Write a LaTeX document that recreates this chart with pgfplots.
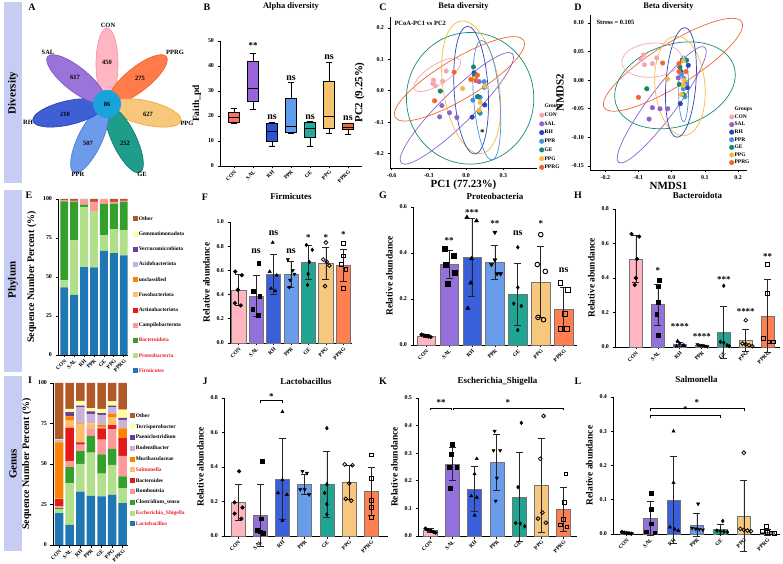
\documentclass[border=0pt]{standalone}
\usepackage{fontspec}
\setmainfont{Liberation Serif}
\usepackage{pgfplots}
\pgfplotsset{compat=1.18}
\usepgfplotslibrary{statistics}

\newcommand{\ffs}[1]{\fontsize{#1}{#1}\selectfont\bfseries}

% group colours (bars)
\definecolor{cCON}{HTML}{FFB6C1}
\definecolor{cSAL}{HTML}{9370DB}
\definecolor{cRH}{HTML}{3A5FDB}
\definecolor{cPPR}{HTML}{6A9CEC}
\definecolor{cGE}{HTML}{1FA593}
\definecolor{cPPG}{HTML}{F8C77E}
\definecolor{cPPRG}{HTML}{FF7F50}
% box plot colours
\definecolor{bCON}{HTML}{F4736B}
\definecolor{bSAL}{HTML}{9A63DB}
\definecolor{bRH}{HTML}{2E53D1}
\definecolor{bPPR}{HTML}{5D9DEE}
\definecolor{bGE}{HTML}{22AA9C}
\definecolor{bPPG}{HTML}{F6C36D}
\definecolor{bPPRG}{HTML}{F2692E}
% scatter colours
\definecolor{sCON}{HTML}{F6A5B2}
\definecolor{sSAL}{HTML}{8E62CF}
\definecolor{sRH}{HTML}{2B45B8}
\definecolor{sPPR}{HTML}{4A8FE0}
\definecolor{sGE}{HTML}{138A6E}
\definecolor{sPPG}{HTML}{F5B940}
\definecolor{sPPRG}{HTML}{F2652E}
% flower
\definecolor{fCON}{HTML}{FFB5C2}\definecolor{eCON}{HTML}{F48FA0}
\definecolor{fSAL}{HTML}{9B74DA}\definecolor{eSAL}{HTML}{7450C0}
\definecolor{fRH}{HTML}{3E5FD6}\definecolor{eRH}{HTML}{2040A8}
\definecolor{fPPR}{HTML}{6C9BEB}\definecolor{ePPR}{HTML}{4575D0}
\definecolor{fGE}{HTML}{1E9E8A}\definecolor{eGE}{HTML}{0F7565}
\definecolor{fPPG}{HTML}{F7C77C}\definecolor{ePPG}{HTML}{F2A127}
\definecolor{fPPRG}{HTML}{FF7B4A}\definecolor{ePPRG}{HTML}{F0581E}
\definecolor{fCEN}{HTML}{1AA3DA}
% stacked palette
\definecolor{p1}{HTML}{1F78B4}
\definecolor{p2}{HTML}{B2DF8A}
\definecolor{p3}{HTML}{33A02C}
\definecolor{p4}{HTML}{FB9A99}
\definecolor{p5}{HTML}{E31A1C}
\definecolor{p6}{HTML}{FDBF6F}
\definecolor{p7}{HTML}{FF7F00}
\definecolor{p8}{HTML}{CAB2D6}
\definecolor{p9}{HTML}{6A3D9A}
\definecolor{p10}{HTML}{FFFF99}
\definecolor{p11}{HTML}{B15928}
\definecolor{strip}{HTML}{C6CCF2}
\definecolor{hl}{HTML}{E8202A}

\pgfplotsset{
  panel/.style={scale only axis, anchor=south west, axis lines*=left,
    axis line style={black, line width=0.9pt},
    every tick/.style={black, line width=0.7pt},
    tick align=outside, major tick length=2.5bp,
    tick label style={font=\ffs{6}},
    /pgf/number format/assume math mode=true,
    scaled ticks=false,
    label style={font=\ffs{9.5}},
    title style={font=\ffs{9}, anchor=center, at={(0.5,1)}},
    clip=false},
  grpticks/.style={xtick={0,1,2,3,4,5,6}, xticklabels={CON,SAL,RH,PPR,GE,PPG,PPRG},
    x tick label style={rotate=45, anchor=north east, inner sep=0.8pt, font=\ffs{5.5}}},
  barpanel/.style={panel, grpticks, ymin=0, ylabel={Relative abundance},
    yticklabel style={/pgf/number format/fixed, /pgf/number format/fixed zerofill,
      /pgf/number format/precision=1}},
  grplegend/.style={legend cell align=left,
    legend style={anchor=north west, draw=none, fill=none, font=\ffs{5.5},
      inner sep=0pt, row sep=#1,
      nodes={inner sep=0.6pt, text height=4bp, text depth=1.2bp}}},
}

% one group: x, colour, mean, sd
\newcommand{\gbar}[4]{\addplot[ybar, bar shift=0pt, fill=#2, draw=black!55, line width=0.5pt,
  error bars/.cd, y dir=both, y explicit,
  error bar style={black!85, line width=0.7pt},
  error mark options={black!85, line width=0.7pt, mark size=3.5bp, rotate=90}]
  coordinates {(#1,#3) +- (0,#4)};}
% the single animals of a group
\newcommand{\gpts}[2]{\addplot[only marks, black, mark size=1.9bp, #1] coordinates {#2};}

\begin{document}
\begin{tikzpicture}
\useasboundingbox (0,0) rectangle (783bp,564bp);

% ---------------- frame: strips, letters, flower (pixel coordinates)
\begin{axis}[at={(0bp,0bp)}, anchor=south west, scale only axis, width=783bp, height=564bp,
  xmin=0, xmax=783, ymin=0, ymax=564, y dir=reverse, hide axis, clip=false]
\fill[strip] (axis cs:4,2) rectangle (axis cs:22,183);
\fill[strip] (axis cs:4,190) rectangle (axis cs:22,372);
\fill[strip] (axis cs:4,376) rectangle (axis cs:22,551);
\node[rotate=90, font=\ffs{11}] at (axis cs:13,93) {Diversity};
\node[rotate=90, font=\ffs{11}] at (axis cs:13,280) {Phylum};
\node[rotate=90, font=\ffs{11}] at (axis cs:13,464) {Genus};
\node[font=\ffs{10}] at (axis cs:32,7) {A};
\node[font=\ffs{10}] at (axis cs:207,7) {B};
\node[font=\ffs{10}] at (axis cs:383,7) {C};
\node[font=\ffs{10}] at (axis cs:578,7) {D};
\node[font=\ffs{10}] at (axis cs:29,195) {E};
\node[font=\ffs{10}] at (axis cs:205,197) {F};
\node[font=\ffs{10}] at (axis cs:383,195) {G};
\node[font=\ffs{10}] at (axis cs:578,195) {H};
\node[font=\ffs{10}] at (axis cs:30,380) {I};
\node[font=\ffs{10}] at (axis cs:205,381) {J};
\node[font=\ffs{10}] at (axis cs:383,381) {K};
\node[font=\ffs{10}] at (axis cs:578,381) {L};
% flower
\filldraw[fill=fCON, draw=eCON, line width=0.6pt, rotate around={90:(axis cs:107,64)}] (axis cs:107,64) ellipse [x radius=36bp, y radius=11bp];
\filldraw[fill=fPPRG, draw=ePPRG, line width=0.6pt, rotate around={38.6:(axis cs:138.2,79)}] (axis cs:138.2,79) ellipse [x radius=36bp, y radius=12bp];
\filldraw[fill=fPPG, draw=ePPG, line width=0.6pt, rotate around={-12.9:(axis cs:146,112.9)}] (axis cs:146,112.9) ellipse [x radius=36bp, y radius=12bp];
\filldraw[fill=fGE, draw=eGE, line width=0.6pt, rotate around={-64.3:(axis cs:124.4,140)}] (axis cs:124.4,140) ellipse [x radius=36bp, y radius=12bp];
\filldraw[fill=fPPR, draw=ePPR, line width=0.6pt, rotate around={-115.7:(axis cs:89.6,140)}] (axis cs:89.6,140) ellipse [x radius=36bp, y radius=12bp];
\filldraw[fill=fRH, draw=eRH, line width=0.6pt, rotate around={-167.1:(axis cs:68,112.9)}] (axis cs:68,112.9) ellipse [x radius=36bp, y radius=12bp];
\filldraw[fill=fSAL, draw=eSAL, line width=0.6pt, rotate around={141.4:(axis cs:75.8,79)}] (axis cs:75.8,79) ellipse [x radius=36bp, y radius=12bp];
\fill[fCEN] (axis cs:107,104) circle [radius=14bp];
\node[font=\ffs{6.5}] at (axis cs:107,104) {86};
\node[font=\ffs{6.5}] at (axis cs:107,62) {450};
\node[font=\ffs{6.5}] at (axis cs:75,77) {617};
\node[font=\ffs{6.5}] at (axis cs:140,78) {275};
\node[font=\ffs{6.5}] at (axis cs:148,114) {627};
\node[font=\ffs{6.5}] at (axis cs:125,143) {252};
\node[font=\ffs{6.5}] at (axis cs:88,143) {507};
\node[font=\ffs{6.5}] at (axis cs:65,114) {210};
\node[font=\ffs{6.5}] at (axis cs:108,25) {CON};
\node[font=\ffs{6.5}] at (axis cs:48,52) {SAL};
\node[font=\ffs{6.5}] at (axis cs:175,52) {PPRG};
\node[font=\ffs{6.5}] at (axis cs:187,123) {PPG};
\node[font=\ffs{6.5}] at (axis cs:142,174) {GE};
\node[font=\ffs{6.5}] at (axis cs:78,174) {PPR};
\node[font=\ffs{6.5}] at (axis cs:28,122) {RH};
\node[anchor=west, font=\ffs{6.5}] at (axis cs:391,23) {PCoA-PC1 vs PC2};
\node[anchor=west, font=\ffs{6.5}] at (axis cs:593,22) {Stress = 0.105};
\end{axis}

% ---------------- B: alpha diversity
\begin{axis}[panel, grpticks, at={(220bp,398bp)}, width=142bp, height=125bp,
  xmin=-0.74, xmax=6.74, ymin=0, ymax=50, ytick={0,10,20,30,40,50},
  ylabel={Faith\_pd}, title={Alpha diversity}, title style={font=\ffs{8.5}, yshift=29bp},
  boxplot/draw direction=y]
\addplot[boxplot prepared={draw position=0, lower whisker=17, lower quartile=17.5, median=19.5, upper quartile=21.5, upper whisker=23, box extend=0.6, whisker extend=0.35}, fill=bCON, draw=black, line width=0.7pt] coordinates {};
\addplot[boxplot prepared={draw position=1, lower whisker=22.5, lower quartile=26, median=31, upper quartile=42, upper whisker=45, box extend=0.6, whisker extend=0.35}, fill=bSAL, draw=black, line width=0.7pt] coordinates {};
\addplot[boxplot prepared={draw position=2, lower whisker=8, lower quartile=10, median=14, upper quartile=17, upper whisker=17.3, box extend=0.6, whisker extend=0.35}, fill=bRH, draw=black, line width=0.7pt] coordinates {};
\addplot[boxplot prepared={draw position=3, lower whisker=13, lower quartile=13.5, median=16, upper quartile=27, upper whisker=33.5, box extend=0.6, whisker extend=0.35}, fill=bPPR, draw=black, line width=0.7pt] coordinates {};
\addplot[boxplot prepared={draw position=4, lower whisker=8, lower quartile=11.5, median=15, upper quartile=17.3, upper whisker=17.7, box extend=0.6, whisker extend=0.35}, fill=bGE, draw=black, line width=0.7pt] coordinates {};
\addplot[boxplot prepared={draw position=5, lower whisker=13, lower quartile=15, median=20, upper quartile=34, upper whisker=41.5, box extend=0.6, whisker extend=0.35}, fill=bPPG, draw=black, line width=0.7pt] coordinates {};
\addplot[boxplot prepared={draw position=6, lower whisker=12.5, lower quartile=14.5, median=15.5, upper quartile=17, upper whisker=17.2, box extend=0.6, whisker extend=0.35}, fill=bPPRG, draw=black, line width=0.7pt] coordinates {};
\node[font=\ffs{9}] at (axis cs:1,48) {**};
\node[font=\ffs{10}] at (axis cs:2,19.7) {ns};
\node[font=\ffs{10}] at (axis cs:3,35) {ns};
\node[font=\ffs{10}] at (axis cs:4,19.7) {ns};
\node[font=\ffs{10}] at (axis cs:5,43.7) {ns};
\node[font=\ffs{10}] at (axis cs:6,19.2) {ns};
\end{axis}

% ---------------- C: PCoA
\begin{axis}[panel, at={(390bp,396bp)}, width=147bp, height=151bp,
  xmin=-0.614, xmax=0.571, ymin=-0.246, ymax=0.235,
  xtick={-0.6,-0.3,0,0.3}, ytick={-0.2,-0.1,0,0.1,0.2},
  tick label style={/pgf/number format/fixed, /pgf/number format/fixed zerofill, /pgf/number format/precision=1},
  xlabel={PC1 (77.23\%)}, ylabel={PC2 (9.25\%)}, label style={font=\ffs{11}},
  xlabel style={yshift=5bp}, ylabel shift=3bp,
  title={Beta diversity}, title style={font=\ffs{8.5}, yshift=5bp},
  grplegend=2.3bp, legend style={at={(0.973,0.43)}}]
\draw[sGE, line width=0.7pt] (axis cs:0.032,-0.024) ellipse [x radius=63.7bp, y radius=65.8bp];
\draw[sPPRG, line width=0.7pt, rotate around={30.9:(axis cs:-0.054,0.038)}] (axis cs:-0.054,0.038) ellipse [x radius=75bp, y radius=20bp];
\draw[sSAL, line width=0.7pt, rotate around={44.5:(axis cs:-0.075,-0.056)}] (axis cs:-0.075,-0.056) ellipse [x radius=78bp, y radius=16bp];
\draw[sPPG, line width=0.7pt, rotate around={99:(axis cs:0.040,0.011)}] (axis cs:0.040,0.011) ellipse [x radius=67bp, y radius=28bp];
\draw[sRH, line width=0.7pt, rotate around={93.4:(axis cs:0.040,0.002)}] (axis cs:0.040,0.002) ellipse [x radius=64bp, y radius=17bp];
\draw[sPPR, line width=0.7pt, rotate around={95:(axis cs:0.166,-0.030)}] (axis cs:0.166,-0.030) ellipse [x radius=60bp, y radius=13bp];
\draw[sCON, line width=0.7pt, rotate around={32.5:(axis cs:-0.233,0.051)}] (axis cs:-0.233,0.051) ellipse [x radius=27bp, y radius=10bp];
\addlegendimage{empty legend}\addlegendentry{Groups}
\addplot[only marks, mark=*, mark size=2.3bp, color=sCON] coordinates {(-0.161,0.063)(-0.263,0.034)(-0.268,0.023)(-0.249,0.016)(-0.190,0.030)};
\addlegendentry{CON}
\addplot[only marks, mark=*, mark size=2.3bp, color=sSAL] coordinates {(-0.196,-0.047)(-0.214,-0.083)(-0.134,-0.070)(-0.075,-0.085)(0.105,0.029)};
\addlegendentry{SAL}
\addplot[only marks, mark=*, mark size=2.3bp, color=sRH] coordinates {(0.064,0.057)(0.072,0.042)(0.048,-0.084)(0.150,-0.045)(0.091,-0.019)};
\addlegendentry{RH}
\addplot[only marks, mark=*, mark size=2.3bp, color=sPPR] coordinates {(0.145,0.029)(0.054,-0.030)(0.147,0.011)(0.113,-0.072)(0.113,-0.021)};
\addlegendentry{PPR}
\addplot[only marks, mark=*, mark size=2.3bp, color=sGE] coordinates {(-0.209,-0.001)(0.059,0.076)(0.067,0.049)(0.099,-0.019)(0.105,-0.067)};
\addlegendentry{GE}
\addplot[only marks, mark=*, mark size=2.3bp, color=sPPG] coordinates {(-0.029,0.007)(0.153,0.015)(0.113,-0.037)(0.105,-0.062)(0.064,0.039)};
\addlegendentry{PPG}
\addplot[only marks, mark=*, mark size=2.3bp, color=sPPRG] coordinates {(-0.097,0.059)(0.038,0.036)(0.078,0.032)(0.091,0.050)(-0.255,-0.032)};
\addlegendentry{PPRG}
\node[font=\ffs{9}] at (axis cs:0.131,-0.134) {*};
\end{axis}

% ---------------- D: NMDS
\begin{axis}[panel, at={(590bp,394bp)}, width=157bp, height=155bp,
  xmin=-0.246, xmax=0.227, ymin=-0.157, ymax=0.114,
  xtick={-0.2,-0.1,0,0.1,0.2}, ytick={-0.15,-0.1,-0.05,0,0.05,0.1},
  xticklabel style={/pgf/number format/fixed, /pgf/number format/fixed zerofill, /pgf/number format/precision=1},
  yticklabel style={/pgf/number format/fixed, /pgf/number format/fixed zerofill, /pgf/number format/precision=2},
  xlabel={NMDS1}, ylabel={NMDS2}, label style={font=\ffs{11}},
  xlabel style={yshift=5bp}, ylabel shift=1bp,
  title={Beta diversity}, title style={font=\ffs{8.5}, yshift=3bp},
  grplegend=1.2bp, legend style={at={(0.847,0.413)}}]
\draw[sPPRG, line width=0.7pt, rotate around={32:(axis cs:0.004,0.027)}] (axis cs:0.004,0.027) ellipse [x radius=81bp, y radius=21bp];
\draw[sGE, line width=0.7pt, rotate around={18:(axis cs:0.010,-0.009)}] (axis cs:0.010,-0.009) ellipse [x radius=62bp, y radius=41bp];
\draw[sSAL, line width=0.7pt, rotate around={53.2:(axis cs:-0.030,-0.043)}] (axis cs:-0.030,-0.043) ellipse [x radius=72bp, y radius=14bp];
\draw[sPPG, line width=0.7pt, rotate around={95:(axis cs:0.025,-0.010)}] (axis cs:0.025,-0.010) ellipse [x radius=50bp, y radius=25bp];
\draw[sRH, line width=0.7pt, rotate around={85.8:(axis cs:0.028,-0.004)}] (axis cs:0.028,-0.004) ellipse [x radius=55bp, y radius=15bp];
\draw[sPPR, line width=0.7pt, rotate around={90:(axis cs:0.036,-0.015)}] (axis cs:0.036,-0.015) ellipse [x radius=33bp, y radius=5bp];
\draw[sCON, line width=0.7pt, rotate around={5:(axis cs:-0.060,0.035)}] (axis cs:-0.060,0.035) ellipse [x radius=30bp, y radius=17bp];
\addlegendimage{empty legend}\addlegendentry{Groups}
\addplot[only marks, mark=*, mark size=2.3bp, color=sCON] coordinates {(-0.085,0.044)(-0.082,0.027)(-0.058,0.029)(-0.045,0.039)(-0.092,0.036)};
\addlegendentry{CON}
\addplot[only marks, mark=*, mark size=2.3bp, color=sSAL] coordinates {(-0.058,-0.048)(-0.035,-0.050)(-0.068,-0.068)(-0.012,-0.050)(0.020,0.004)};
\addlegendentry{SAL}
\addplot[only marks, mark=*, mark size=2.3bp, color=sRH] coordinates {(0.050,0.026)(0.028,0.015)(0.047,-0.013)(0.026,-0.041)(0.032,0.035)};
\addlegendentry{RH}
\addplot[only marks, mark=*, mark size=2.3bp, color=sPPR] coordinates {(0.037,0.003)(0.035,-0.015)(0.040,-0.029)(0.030,0.010)(0.043,-0.006)};
\addlegendentry{PPR}
\addplot[only marks, mark=*, mark size=2.3bp, color=sGE] coordinates {(-0.075,-0.015)(0.045,0.035)(0.025,0.023)(0.023,-0.007)(0.035,-0.025)};
\addlegendentry{GE}
\addplot[only marks, mark=*, mark size=2.3bp, color=sPPG] coordinates {(-0.013,0.002)(0.035,0.034)(0.037,0.000)(0.030,-0.025)(0.036,-0.009)};
\addlegendentry{PPG}
\addplot[only marks, mark=*, mark size=2.3bp, color=sPPRG] coordinates {(-0.027,0.030)(-0.100,-0.030)(0.022,0.029)(0.043,0.015)(0.022,0.015)};
\addlegendentry{PPRG}
\end{axis}

% ---------------- E: phylum composition
\begin{axis}[panel, grpticks, at={(58bp,209bp)}, width=70bp, height=156bp,
  xmin=-0.63, xmax=6.43, ymin=0, ymax=100, ytick={0,25,50,75,100},
  ybar stacked, bar width=0.8,
  ylabel={Sequence Number Percent (\%)}, ylabel style={font=\ffs{10}},
  reverse legend, legend cell align=left,
  legend image code/.code={\fill[#1] (0bp,-2.5bp) rectangle (5bp,2.5bp);},
  legend style={at={(1.071,0.894)}, anchor=north west, draw=none, fill=none, font=\ffs{5.5},
    inner sep=0pt, row sep=8.8bp, nodes={inner sep=0.6pt, text height=4bp, text depth=1.2bp}}]
\addplot[fill=p1, draw=none] coordinates {(0,43.3)(1,38.5)(2,56.3)(3,56.1)(4,66.8)(5,65.3)(6,63.8)};
\addplot[fill=p2, draw=none] coordinates {(0,4.5)(1,34.9)(2,38.3)(3,36.0)(4,9.9)(5,15.4)(6,16.1)};
\addplot[fill=p3, draw=none] coordinates {(0,50.7)(1,24.7)(2,1.8)(3,0.2)(4,20.0)(5,16.3)(6,18.2)};
\addplot[fill=p4, draw=none] coordinates {(0,0.6)(1,0.6)(2,3.4)(3,5.6)(4,3.0)(5,1.0)(6,0.5)};
\addplot[fill=p5, draw=none] coordinates {(0,0.2)(1,0.3)(2,0)(3,0.6)(4,0)(5,0.5)(6,0.4)};
\addplot[fill=p6, draw=none] coordinates {(0,0)(1,0)(2,0)(3,0)(4,0)(5,0.2)(6,0)};
\addplot[fill=p7, draw=none] coordinates {(0,0)(1,0)(2,0)(3,0)(4,0)(5,0.1)(6,0)};
\addplot[fill=p8, draw=none] coordinates {(0,0)(1,0)(2,0)(3,0)(4,0)(5,0)(6,0)};
\addplot[fill=p9, draw=none] coordinates {(0,0)(1,0)(2,0)(3,0)(4,0)(5,0)(6,0)};
\addplot[fill=p10, draw=none] coordinates {(0,0)(1,0)(2,0)(3,0)(4,0)(5,0)(6,0)};
\addplot[fill=p11, draw=none] coordinates {(0,0.7)(1,1.0)(2,0.2)(3,1.5)(4,0.3)(5,1.2)(6,1.0)};
\legend{\textcolor{hl}{Firmicutes},\textcolor{hl}{Proteobacteria},\textcolor{hl}{Bacteroidota},Campilobacterota,Actinobacteriota,Fusobacteriota,unclassified,Acidobacteriota,Verrucomicrobiota,Gemmatimonadota,Other}
\end{axis}

% ---------------- I: genus composition
\begin{axis}[panel, grpticks, at={(53bp,19bp)}, width=75bp, height=162bp,
  xmin=-0.58, xmax=6.5, ymin=0, ymax=100, ytick={0,25,50,75,100},
  ybar stacked, bar width=0.8,
  ylabel={Sequence Number Percent (\%)}, ylabel style={font=\ffs{10}},
  reverse legend, legend cell align=left,
  legend image code/.code={\fill[#1] (0bp,-2.5bp) rectangle (5bp,2.5bp);},
  legend style={at={(1.027,0.818)}, anchor=north west, draw=none, fill=none, font=\ffs{5.5},
    inner sep=0pt, row sep=4.4bp, nodes={inner sep=0.6pt, text height=4bp, text depth=1.2bp}}]
\addplot[fill=p1, draw=none] coordinates {(0,19.6)(1,12.4)(2,33)(3,30.3)(4,30)(5,31)(6,25.8)};
\addplot[fill=p2, draw=none] coordinates {(0,2.4)(1,25.6)(2,17)(3,26.7)(4,14)(5,18.5)(6,9.2)};
\addplot[fill=p3, draw=none] coordinates {(0,0.7)(1,10)(2,8)(3,10.4)(4,12)(5,9.9)(6,7.3)};
\addplot[fill=p4, draw=none] coordinates {(0,1.3)(1,4)(2,4)(3,4.6)(4,9)(5,12.1)(6,12.7)};
\addplot[fill=p5, draw=none] coordinates {(0,4.5)(1,20.5)(2,1.3)(3,0)(4,7)(5,2.5)(6,11)};
\addplot[fill=p6, draw=none] coordinates {(0,0.4)(1,4.2)(2,11.3)(3,3)(4,0.5)(5,5)(6,0)};
\addplot[fill=p7, draw=none] coordinates {(0,34.4)(1,2.7)(2,0.4)(3,0)(4,1.5)(5,2)(6,6)};
\addplot[fill=p8, draw=none] coordinates {(0,1.7)(1,0)(2,10)(3,6)(4,6.4)(5,4)(6,5.3)};
\addplot[fill=p9, draw=none] coordinates {(0,0)(1,2.6)(2,1)(3,1.5)(4,1)(5,1)(6,1.1)};
\addplot[fill=p10, draw=none] coordinates {(0,0.4)(1,2)(2,3)(3,2)(4,2.6)(5,2.7)(6,5.1)};
\addplot[fill=p11, draw=none] coordinates {(0,34.6)(1,16)(2,11)(3,15.5)(4,16)(5,11.3)(6,16.5)};
\legend{\textcolor{hl}{Lactobacillus},\textcolor{hl}{Escherichia\_Shigella},Clostridium\_sensu,Romboutsia,Bacteroides,\textcolor{hl}{Salmonella},Muribaculaceae,Rodentibacter,Paeniclostridium,Terrisporobacter,Other}
\end{axis}

% ---------------- F: Firmicutes
\begin{axis}[barpanel, at={(230bp,221bp)}, width=122bp, height=121bp,
  xmin=-0.5, xmax=6.5, ymax=1.0, ytick={0,0.2,0.4,0.6,0.8,1.0}, bar width=0.82,
  title={Firmicutes}, title style={yshift=20bp}]
\gbar{0}{cCON}{0.44}{0.125}
\gpts{mark=*}{(-0.2,0.59)(0.18,0.56)(-0.05,0.44)(-0.22,0.33)(0.12,0.31)}
\gbar{1}{cSAL}{0.39}{0.17}
\gpts{mark=square*}{(1.15,0.66)(0.85,0.43)(1.2,0.39)(0.8,0.28)(1.12,0.23)}
\gbar{2}{cRH}{0.57}{0.165}
\gpts{mark=triangle*}{(1.95,0.83)(1.78,0.59)(2.18,0.56)(1.85,0.45)(2.1,0.43)}
\gbar{3}{cPPR}{0.567}{0.11}
\gpts{mark=triangle*, mark options={rotate=180}}{(2.82,0.69)(3.1,0.60)(3.2,0.57)(2.95,0.52)(2.9,0.46)}
\gbar{4}{cGE}{0.67}{0.14}
\gpts{mark=diamond*}{(3.88,0.81)(4.22,0.77)(4.05,0.67)(3.98,0.57)(3.95,0.48)}
\gbar{5}{cPPG}{0.66}{0.13}
\gpts{mark=o, line width=0.8pt}{(5,0.83)(4.85,0.69)(5.05,0.67)(5.2,0.64)(4.95,0.47)}
\gbar{6}{cPPRG}{0.64}{0.13}
\gpts{mark=square, line width=0.8pt}{(6,0.82)(6,0.72)(5.88,0.65)(6.15,0.61)(6,0.45)}
\node[font=\ffs{10}] at (axis cs:1,0.76) {ns};
\node[font=\ffs{10}] at (axis cs:2,0.91) {ns};
\node[font=\ffs{10}] at (axis cs:3,0.76) {ns};
\node[font=\ffs{9}] at (axis cs:4,0.87) {*};
\node[font=\ffs{9}] at (axis cs:5,0.87) {*};
\node[font=\ffs{9}] at (axis cs:6,0.90) {*};
\end{axis}

% ---------------- G: Proteobacteria
\begin{axis}[barpanel, at={(413bp,219bp)}, width=164bp, height=138bp,
  xmin=-0.57, xmax=6.58, ymax=0.6, ytick={0,0.2,0.4,0.6}, bar width=0.8,
  title={Proteobacteria}, title style={yshift=5bp}]
\gbar{0}{cCON}{0.04}{0.005}
\gpts{mark=*}{(-0.2,0.045)(-0.1,0.042)(0,0.04)(0.1,0.037)(0.2,0.035)}
\gbar{1}{cSAL}{0.35}{0.06}
\gpts{mark=square*, mark size=2.4bp}{(0.82,0.42)(1.22,0.39)(0.85,0.35)(1.25,0.315)(0.95,0.265)}
\gbar{2}{cRH}{0.38}{0.17}
\gpts{mark=triangle*, mark size=2.4bp}{(1.78,0.555)(2.2,0.54)(1.98,0.375)(1.95,0.27)(1.82,0.16)}
\gbar{3}{cPPR}{0.36}{0.075}
\gpts{mark=triangle*, mark size=2.4bp, mark options={rotate=180}}{(3,0.49)(3,0.37)(2.85,0.35)(3.1,0.31)(3.25,0.31)}
\gbar{4}{cGE}{0.22}{0.135}
\gpts{mark=diamond*}{(4,0.425)(4,0.25)(3.82,0.18)(4.15,0.17)(4,0.065)}
\gbar{5}{cPPG}{0.275}{0.155}
\gpts{mark=o, mark size=2.3bp, line width=0.9pt}{(5,0.48)(4.85,0.35)(5.2,0.32)(4.88,0.12)(5.12,0.11)}
\gbar{6}{cPPRG}{0.155}{0.095}
\gpts{mark=square, mark size=2.3bp, line width=0.9pt}{(5.85,0.27)(6.18,0.24)(6.05,0.135)(5.85,0.07)(6.15,0.07)}
\node[font=\ffs{9}] at (axis cs:1,0.455) {**};
\node[font=\ffs{9}] at (axis cs:2,0.578) {***};
\node[font=\ffs{9}] at (axis cs:3,0.528) {**};
\node[font=\ffs{10}] at (axis cs:4,0.484) {ns};
\node[font=\ffs{9}] at (axis cs:5,0.528) {*};
\node[font=\ffs{10}] at (axis cs:6,0.325) {ns};
\end{axis}

% ---------------- H: Bacteroidota
\begin{axis}[barpanel, at={(615bp,217bp)}, width=165bp, height=138bp,
  xmin=-0.95, xmax=6.56, ymax=0.8, ytick={0,0.2,0.4,0.6,0.8}, bar width=0.56,
  title={Bacteroidota}, title style={yshift=8bp}]
\gbar{0}{cCON}{0.51}{0.135}
\gpts{mark=*}{(-0.2,0.655)(0.15,0.64)(0.05,0.51)(0,0.40)(-0.05,0.36)}
\gbar{1}{cSAL}{0.245}{0.12}
\gpts{mark=square*}{(1.05,0.385)(1,0.35)(1,0.26)(0.95,0.19)(1,0.07)}
\gbar{2}{cRH}{0.015}{0.01}
\gpts{mark=triangle*}{(1.9,0.035)(2,0.02)(2.15,0.01)(1.85,0.005)(2.2,0.008)}
\gbar{3}{cPPR}{0.008}{0.004}
\gpts{mark=triangle*, mark options={rotate=180}}{(2.8,0.015)(2.95,0.01)(3.05,0.008)(3.15,0.005)(3.25,0.003)}
\gbar{4}{cGE}{0.085}{0.15}
\gpts{mark=diamond*}{(4,0.355)(3.85,0.03)(4,0.025)(4.15,0.01)(4.25,0.005)}
\gbar{5}{cPPG}{0.04}{0.065}
\gpts{mark=o, line width=0.8pt}{(5,0.155)(4.85,0.02)(5,0.015)(5.15,0.01)(5.3,0.005)}
\gbar{6}{cPPRG}{0.18}{0.21}
\gpts{mark=square, line width=0.8pt}{(6,0.48)(6,0.31)(5.8,0.05)(6.05,0.03)(6.25,0.03)}
\node[font=\ffs{9}] at (axis cs:1,0.443) {*};
\node[font=\ffs{9}] at (axis cs:2,0.117) {****};
\node[font=\ffs{9}] at (axis cs:3,0.058) {****};
\node[font=\ffs{9}] at (axis cs:4,0.392) {***};
\node[font=\ffs{9}] at (axis cs:5,0.204) {****};
\node[font=\ffs{9}] at (axis cs:6,0.524) {**};
\end{axis}

% ---------------- J: Lactobacillus
\begin{axis}[barpanel, at={(224bp,28bp)}, width=164bp, height=138bp,
  xmin=-0.63, xmax=6.75, ymax=0.8, ytick={0,0.2,0.4,0.6,0.8}, bar width=0.63,
  title={Lactobacillus}, title style={yshift=11bp}]
\gbar{0}{cCON}{0.195}{0.105}
\gpts{mark=*}{(0.05,0.375)(-0.15,0.195)(0.2,0.165)(-0.15,0.13)(0.15,0.10)}
\gbar{1}{cSAL}{0.12}{0.18}
\gpts{mark=square*}{(1.1,0.435)(1.05,0.10)(0.85,0.035)(1,0.025)(1.15,0.015)}
\gbar{2}{cRH}{0.33}{0.235}
\gpts{mark=triangle*}{(2,0.72)(2,0.325)(1.8,0.25)(2.2,0.24)(2,0.09)}
\gbar{3}{cPPR}{0.30}{0.06}
\gpts{mark=triangle*, mark options={rotate=180}}{(2.9,0.375)(3.1,0.365)(2.8,0.27)(3,0.27)(3.2,0.24)}
\gbar{4}{cGE}{0.30}{0.19}
\gpts{mark=diamond*}{(4,0.625)(4,0.30)(3.9,0.25)(4,0.185)(4,0.125)}
\gbar{5}{cPPG}{0.31}{0.10}
\gpts{mark=o, line width=0.8pt}{(4.8,0.415)(5.15,0.41)(5,0.305)(4.85,0.215)(5.1,0.205)}
\gbar{6}{cPPRG}{0.26}{0.14}
\gpts{mark=square, line width=0.8pt}{(6,0.47)(6,0.335)(6,0.205)(6,0.165)(6,0.11)}
\draw[line width=0.6pt] (axis cs:1,0.77) -- (axis cs:1,0.784) -- (axis cs:2,0.784) -- (axis cs:2,0.77);
\node[font=\ffs{9}] at (axis cs:1.5,0.81) {*};
\end{axis}

% ---------------- K: Escherichia_Shigella
\begin{axis}[barpanel, at={(418bp,28bp)}, width=159bp, height=138bp,
  xmin=-0.54, xmax=6.6, ymax=0.5, ytick={0,0.1,0.2,0.3,0.4,0.5}, bar width=0.63,
  title={Escherichia\_Shigella}, title style={yshift=11bp}]
\gbar{0}{cCON}{0.02}{0.008}
\gpts{mark=*}{(-0.2,0.027)(-0.1,0.022)(0.05,0.018)(0.15,0.015)(0.25,0.012)}
\gbar{1}{cSAL}{0.26}{0.06}
\gpts{mark=square*}{(1,0.332)(0.95,0.296)(0.85,0.25)(1.2,0.25)(0.9,0.173)}
\gbar{2}{cRH}{0.17}{0.082}
\gpts{mark=triangle*}{(2.1,0.28)(2,0.225)(1.85,0.145)(2.1,0.14)(2,0.075)}
\gbar{3}{cPPR}{0.267}{0.1}
\gpts{mark=triangle*, mark options={rotate=180}}{(2.9,0.38)(2.85,0.31)(3.15,0.31)(3,0.21)(2.95,0.127)}
\gbar{4}{cGE}{0.142}{0.16}
\gpts{mark=diamond*}{(4.1,0.41)(3.95,0.177)(3.85,0.047)(4.05,0.045)(4.25,0.035)}
\gbar{5}{cPPG}{0.183}{0.17}
\gpts{mark=o, line width=0.8pt}{(5.1,0.435)(4.95,0.28)(5.05,0.085)(4.85,0.063)(5.2,0.048)}
\gbar{6}{cPPRG}{0.096}{0.08}
\gpts{mark=square, line width=0.8pt}{(6.1,0.225)(6.05,0.123)(6,0.06)(5.85,0.04)(6.15,0.033)}
\draw[line width=0.6pt] (axis cs:0,0.455) -- (axis cs:0,0.464) -- (axis cs:0.95,0.464) -- (axis cs:0.95,0.455);
\draw[line width=0.6pt] (axis cs:1.05,0.455) -- (axis cs:1.05,0.464) -- (axis cs:6,0.464) -- (axis cs:6,0.455);
\node[font=\ffs{9}] at (axis cs:0.5,0.482) {**};
\node[font=\ffs{9}] at (axis cs:3.5,0.482) {*};
\end{axis}

% ---------------- L: Salmonella
\begin{axis}[barpanel, at={(613bp,30bp)}, width=167bp, height=137bp,
  xmin=-0.58, xmax=6.54, ymax=0.4, ytick={0,0.1,0.2,0.3,0.4}, bar width=0.57,
  title={Salmonella}, title style={yshift=12bp}]
\gbar{0}{cCON}{0.004}{0.002}
\gpts{mark=*}{(-0.2,0.006)(-0.1,0.004)(0,0.003)(0.1,0.002)(0.2,0.001)}
\gbar{1}{cSAL}{0.045}{0.05}
\gpts{mark=square*}{(1.05,0.118)(1.05,0.073)(1.05,0.03)(0.85,0.007)(1.2,0.004)}
\gbar{2}{cRH}{0.1}{0.127}
\gpts{mark=triangle*}{(2,0.3)(2,0.15)(1.85,0.02)(2.05,0.014)(2.2,0.01)}
\gbar{3}{cPPR}{0.027}{0.034}
\gpts{mark=triangle*, mark options={rotate=180}}{(3.05,0.088)(2.8,0.017)(2.95,0.015)(3.1,0.014)(3.25,0.012)}
\gbar{4}{cGE}{0.014}{0.015}
\gpts{mark=diamond*}{(4.1,0.038)(3.85,0.01)(4,0.008)(4.15,0.007)(4.3,0.005)}
\gbar{5}{cPPG}{0.053}{0.104}
\gpts{mark=o, line width=0.8pt}{(5,0.237)(4.85,0.015)(5,0.012)(5.15,0.01)(5.3,0.008)}
\gbar{6}{cPPRG}{0.005}{0.01}
\gpts{mark=square, line width=0.8pt}{(5.95,0.022)(5.8,0.008)(6,0.004)(6.15,0.003)(6.3,0.002)}
\draw[line width=0.6pt] (axis cs:1,0.36) -- (axis cs:1,0.368) -- (axis cs:5,0.368) -- (axis cs:5,0.36);
\draw[line width=0.6pt] (axis cs:1,0.338) -- (axis cs:1,0.346) -- (axis cs:4,0.346) -- (axis cs:4,0.338);
\node[font=\ffs{9}] at (axis cs:3,0.385) {*};
\node[font=\ffs{9}] at (axis cs:2.5,0.362) {*};
\end{axis}
\end{tikzpicture}
\end{document}
